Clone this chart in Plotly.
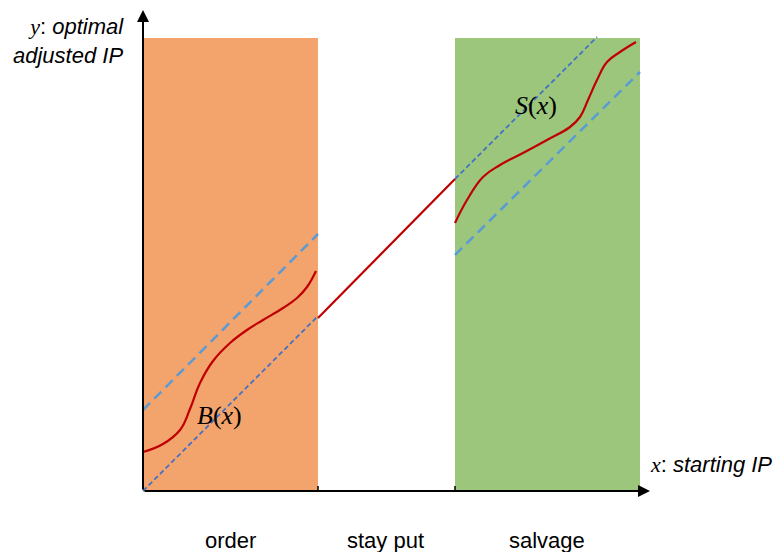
import plotly.graph_objects as go

# Conceptual diagram data (abstract units: origin at 0)
order_region = [0, 175]
salvage_region = [312, 497]
region_top = 453

# B(x): optimal adjusted IP in the "order" region
bx = [0, 20, 37, 47, 57, 70, 87, 104, 120, 140, 154, 164, 173]
by = [39, 47, 61, 82, 108, 130, 148, 161, 171, 183, 193, 204, 220]

# S(x): optimal adjusted IP in the "salvage" region
sx = [312, 324, 340, 357, 380, 404, 427, 437, 445, 454, 464, 477, 493]
sy = [268, 291, 314, 326, 338, 351, 364, 374, 391, 411, 429, 439, 449]

# stay put: y = x
stay_x = [175, 312]
stay_y = [173, 312]

# reference dashed lines
diag_lo_x = [0, 175]
diag_lo_y = [0, 175]
upper_off_x = [0, 175]
upper_off_y = [81, 257]
diag_hi_x = [312, 454]
diag_hi_y = [312, 454]
lower_off_x = [312, 497]
lower_off_y = [236, 419]

region_labels = ["order", "stay put", "salvage"]
region_label_x = [87, 242, 404]

fig = go.Figure()

short_dash = dict(color="#4472C4", width=1.8, dash="5px,3px")
long_dash = dict(color="#5B9BD5", width=2.5, dash="10px,6px")
red = dict(color="#C00000", width=2.2)

fig.add_trace(go.Scatter(x=diag_lo_x, y=diag_lo_y, mode="lines", line=short_dash))
fig.add_trace(go.Scatter(x=diag_hi_x, y=diag_hi_y, mode="lines", line=short_dash))
fig.add_trace(go.Scatter(x=upper_off_x, y=upper_off_y, mode="lines", line=long_dash))
fig.add_trace(go.Scatter(x=lower_off_x, y=lower_off_y, mode="lines", line=long_dash))
fig.add_trace(go.Scatter(x=bx, y=by, mode="lines", line=dict(red, shape="spline", smoothing=1.2)))
fig.add_trace(go.Scatter(x=sx, y=sy, mode="lines", line=dict(red, shape="spline", smoothing=1.2)))
fig.add_trace(go.Scatter(x=stay_x, y=stay_y, mode="lines", line=red))

shapes = [
    dict(type="rect", xref="x", yref="y", x0=order_region[0], x1=order_region[1],
         y0=0, y1=region_top, fillcolor="#F3A36C", line_width=0, layer="below"),
    dict(type="rect", xref="x", yref="y", x0=salvage_region[0], x1=salvage_region[1],
         y0=0, y1=region_top, fillcolor="#9CC67C", line_width=0, layer="below"),
    dict(type="line", xref="x", yref="y", x0=order_region[1], x1=order_region[1],
         y0=0, y1=5, line=dict(color="black", width=1.5)),
    dict(type="line", xref="x", yref="y", x0=salvage_region[0], x1=salvage_region[0],
         y0=0, y1=5, line=dict(color="black", width=1.5)),
]

annotations = [
    dict(x=507, y=0, ax=0, ay=0, xref="x", yref="y", axref="x", ayref="y",
         showarrow=True, arrowhead=2, arrowsize=1.2, arrowwidth=2, arrowcolor="black", text=""),
    dict(x=0, y=481, ax=0, ay=0, xref="x", yref="y", axref="x", ayref="y",
         showarrow=True, arrowhead=2, arrowsize=1.2, arrowwidth=2, arrowcolor="black", text=""),
    dict(x=-17, y=450, xref="x", yref="y", showarrow=False, xanchor="right", align="right",
         text="<span style='font-family:Liberation Serif'><i>y</i></span>: <i>optimal</i><br><i>adjusted IP</i>",
         font=dict(family="Liberation Sans, Arial", size=22, color="black")),
    dict(x=505, y=27, xref="x", yref="y", showarrow=False, xanchor="left",
         text="<span style='font-family:Liberation Serif'><i>x</i></span>: <i>starting IP</i>",
         font=dict(family="Liberation Sans, Arial", size=22, color="black")),
    dict(x=76, y=76, xref="x", yref="y", showarrow=False,
         text="<i>B</i>(<i>x</i>)", font=dict(family="Liberation Serif", size=26, color="black")),
    dict(x=393, y=386, xref="x", yref="y", showarrow=False,
         text="<i>S</i>(<i>x</i>)", font=dict(family="Liberation Serif", size=26, color="black")),
]
for lbl, lx in zip(region_labels, region_label_x):
    annotations.append(dict(x=lx, y=-49, xref="x", yref="y", showarrow=False, text=lbl,
                            font=dict(family="Liberation Sans, Arial", size=22, color="black")))

fig.update_layout(
    width=779, height=552, margin=dict(l=0, r=0, t=0, b=0),
    paper_bgcolor="white", plot_bgcolor="white", showlegend=False,
    xaxis=dict(range=[-143, 636], visible=False, fixedrange=True),
    yaxis=dict(range=[-61, 491], visible=False, fixedrange=True),
    shapes=shapes, annotations=annotations,
)

fig.write_html("out.html")
